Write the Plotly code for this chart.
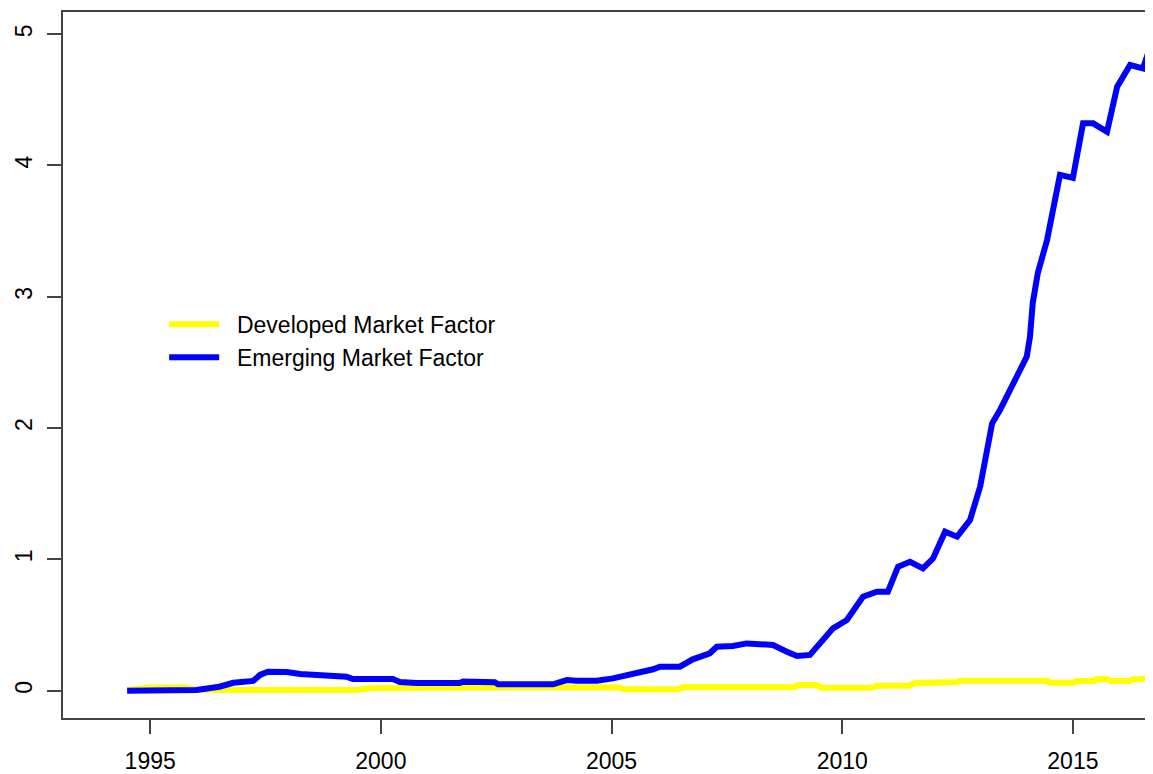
import plotly.graph_objects as go

# --- DATA ---
em_years = [1994.5, 1996.0, 1996.5, 1996.8, 1997.23, 1997.38, 1997.55, 1997.96, 1998.25,
            1998.74, 1999.26, 1999.39, 2000.26, 2000.41, 2000.78, 2001.71, 2001.78, 2002.47,
            2002.54, 2003.73, 2004.03, 2004.25, 2004.68, 2005.03, 2005.4, 2005.9, 2006.05,
            2006.48, 2006.76, 2007.13, 2007.28, 2007.63, 2007.93, 2008.5, 2008.8, 2009.02,
            2009.3, 2009.58, 2009.8, 2010.1, 2010.45, 2010.75, 2010.99, 2011.21, 2011.47,
            2011.75, 2011.97, 2012.23, 2012.49, 2012.77, 2012.99, 2013.14, 2013.25, 2013.42,
            2014.0, 2014.07, 2014.13, 2014.24, 2014.44, 2014.72, 2015.0, 2015.22, 2015.44,
            2015.74, 2015.96, 2016.24, 2016.52, 2016.75]
em_values = [0.0, 0.005, 0.03, 0.06, 0.074, 0.12, 0.145, 0.142, 0.127,
             0.12, 0.107, 0.089, 0.089, 0.066, 0.059, 0.059, 0.069, 0.065,
             0.049, 0.049, 0.081, 0.076, 0.076, 0.094, 0.12, 0.163, 0.183,
             0.183, 0.239, 0.285, 0.335, 0.34, 0.36, 0.348, 0.297, 0.264,
             0.272, 0.386, 0.475, 0.538, 0.716, 0.754, 0.754, 0.944, 0.982,
             0.932, 1.008, 1.211, 1.173, 1.30, 1.554, 1.833, 2.037, 2.138,
             2.544, 2.696, 2.953, 3.181, 3.433, 3.928, 3.905, 4.321, 4.321,
             4.257, 4.60, 4.765, 4.74, 4.98]

dm_years = [1994.5, 1995.0, 1995.75, 1996.0, 1999.5, 1999.8, 2001.0, 2002.5, 2005.15,
            2005.25, 2006.45, 2006.55, 2008.95, 2009.05, 2009.45, 2009.55, 2010.65,
            2010.75, 2011.45, 2011.55, 2011.95, 2012.05, 2012.5, 2012.55, 2014.45,
            2014.5, 2015.0, 2015.1, 2015.45, 2015.5, 2015.75, 2015.8, 2016.25, 2016.3,
            2016.5, 2016.6, 2016.75]
dm_values = [0.005, 0.025, 0.025, 0.005, 0.005, 0.018, 0.023, 0.028, 0.026,
             0.011, 0.011, 0.026, 0.026, 0.043, 0.043, 0.023, 0.023,
             0.038, 0.038, 0.056, 0.056, 0.066, 0.066, 0.076, 0.076,
             0.061, 0.061, 0.074, 0.074, 0.087, 0.087, 0.074, 0.074, 0.087,
             0.087, 0.099, 0.099]

x_ticks = [1995, 2000, 2005, 2010, 2015]
y_ticks = [0, 1, 2, 3, 4, 5]

FONT = "Liberation Sans, Arial, sans-serif"
AXIS_COLOR = "#444444"
PAD = "\u00a0\u00a0"  # small gap between legend line and label, as in the original

fig = go.Figure()

fig.add_trace(go.Scatter(x=dm_years, y=dm_values, mode="lines", name=PAD + "Developed Market Factor",
                         line=dict(color="#ffff00", width=6)))
fig.add_trace(go.Scatter(x=em_years, y=em_values, mode="lines", name=PAD + "Emerging Market Factor",
                         line=dict(color="#0000ff", width=6)))

# page body adds an 8px margin, so the figure is sized to the visible area
fig.update_layout(
    width=1137,
    height=766,
    template="none",
    plot_bgcolor="white",
    paper_bgcolor="white",
    margin=dict(l=55, r=0, t=4, b=56),
    font=dict(family=FONT, size=23, color="black"),
    showlegend=True,
    legend=dict(x=0.0935, y=0.588, xanchor="left", yanchor="top",
                bgcolor="rgba(0,0,0,0)", borderwidth=0,
                font=dict(family=FONT, size=23, color="black"),
                itemwidth=50, tracegroupgap=0),
)

fig.update_xaxes(
    range=[1993.11, 2016.563],
    tickvals=x_ticks,
    showgrid=False, zeroline=False,
    showline=True, linecolor=AXIS_COLOR, linewidth=1.5, mirror=True,
    ticks="outside", ticklen=14, tickwidth=1.5, tickcolor=AXIS_COLOR,
    ticklabelstandoff=8,
)
fig.update_yaxes(
    range=[-0.208, 5.169],
    tickvals=y_ticks,
    showgrid=False, zeroline=False,
    showline=True, linecolor=AXIS_COLOR, linewidth=1.5,
    ticks="outside", ticklen=14, tickwidth=1.5, tickcolor=AXIS_COLOR,
    tickangle=-90, ticklabelstandoff=6,
)

fig.write_html("out.html")
